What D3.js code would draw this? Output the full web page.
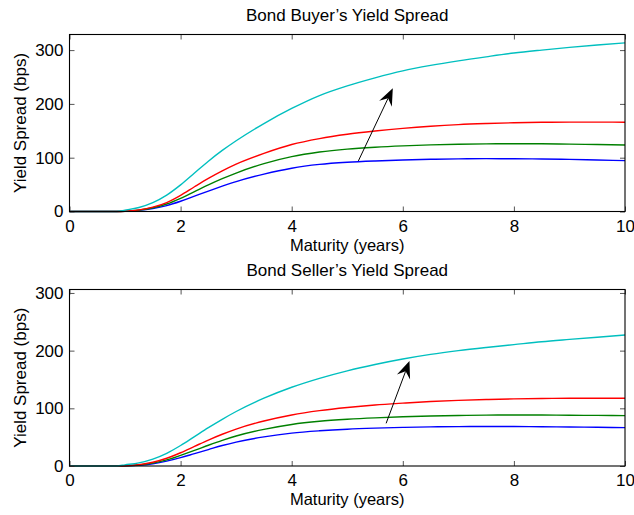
<!DOCTYPE html>
<html>
<head>
<meta charset="utf-8">
<script src="https://cdn.jsdelivr.net/npm/d3@7"></script>
<style>
  html, body { margin: 0; padding: 0; background: #fff; }
  svg { display: block; }
  text { font-family: "Liberation Sans", Arial, Helvetica, sans-serif; }
</style>
</head>
<body>
<svg id="chart" width="634" height="515"></svg>
<script>
// ---- data ----
const maturity = [0, 0.5, 0.85, 1, 1.25, 1.5, 1.75, 2, 2.25, 2.5, 2.75, 3, 3.5, 4, 4.5, 5, 5.5, 6, 6.5, 7, 7.5, 8, 8.5, 9, 9.5, 10];

// Buyer's spread (bps)
const buyerBlue  = [0, 0, 0, 0.3, 2, 5.5, 11, 19, 28.5, 38, 47, 55.5, 69.5, 80.5, 87.5, 91.5, 94, 95.8, 97, 97.8, 98.2, 98.1, 97.6, 96.8, 95.7, 94.5];
const buyerGreen = [0, 0, 0, 0.5, 2.5, 7, 14, 24.5, 37, 49.5, 61, 71.5, 89, 102, 110.5, 116, 119.5, 122, 123.8, 125, 125.7, 126, 125.8, 125.2, 124.4, 123.6];
const buyerRed   = [0, 0, 0, 0.5, 3, 8, 16.5, 30, 46, 61.5, 75.5, 88, 108, 124.5, 135.5, 143.5, 149.5, 154.5, 158.5, 161.5, 163.5, 165, 165.8, 166.2, 166.2, 166];
const buyerCyan  = [0, 0, 0, 2.5, 7.5, 16.5, 30.5, 49.5, 71.5, 93.5, 113.5, 131.5, 163.5, 191.5, 215.5, 233.5, 248.5, 261.5, 271.5, 280, 287.5, 294.5, 300, 305, 309.5, 313.5];

// Seller's spread (bps)
const sellerBlue  = [0, 0, 0, 0.2, 1.3, 4, 8.5, 14.5, 21.5, 28.5, 35.5, 41.5, 50.5, 57, 61, 63.8, 65.6, 66.9, 67.8, 68.3, 68.5, 68.4, 68.1, 67.6, 67.1, 66.5];
const sellerGreen = [0, 0, 0, 0.3, 1.8, 5, 10.5, 18.5, 27, 36, 44.5, 52, 63.5, 72, 77.5, 81, 83.5, 85.3, 86.7, 87.6, 88.2, 88.4, 88.3, 88, 87.7, 87.3];
const sellerRed   = [0, 0, 0, 0.4, 2.4, 6.5, 13.5, 23, 34, 45, 55, 64, 78, 88.5, 96, 101.5, 105.8, 109, 111.8, 113.8, 115.3, 116.4, 117, 117.4, 117.5, 117.5];
const sellerCyan  = [0, 0, 0, 2, 5.5, 12, 22, 35.5, 51, 66.5, 81, 94.5, 117.5, 136.5, 152, 165, 176, 185.5, 193.5, 200, 205.5, 210.5, 215.5, 219.5, 223.3, 227];

const seriesColors = ["#0000ff", "#008000", "#ff0000", "#00bfbf"];

const xTicks = [0, 2, 4, 6, 8, 10];
const yTicks = [0, 100, 200, 300];

const titles = ["Bond Buyer\u2019s Yield Spread", "Bond Seller\u2019s Yield Spread"];
const xLabel = "Maturity (years)";
const yLabel = "Yield Spread (bps)";

// arrows in data coordinates: [x1, y1, x2, y2]
const buyerArrow  = [5.2, 94, 5.82, 229];
const sellerArrow = [5.7, 74, 6.12, 182];

// ---- layout ----
const svg = d3.select("#chart");
const fs = 17;
const panels = [
  { title: titles[0], series: [buyerBlue, buyerGreen, buyerRed, buyerCyan], yMax: 329, top: 34.5, bottom: 211.5, arrow: buyerArrow, xlab: 39.5 },
  { title: titles[1], series: [sellerBlue, sellerGreen, sellerRed, sellerCyan], yMax: 306, top: 289.5, bottom: 466, arrow: sellerArrow, xlab: 38.6 }
];
const left = 69.5, right = 625;

panels.forEach(p => {
  const x = d3.scaleLinear().domain([0, 10]).range([left, right]);
  const y = d3.scaleLinear().domain([0, p.yMax]).range([p.bottom, p.top]);
  const g = svg.append("g");

  // curves
  const line = d3.line().x((d, i) => x(maturity[i])).y(d => y(d)).curve(d3.curveMonotoneX);
  p.series.forEach((s, k) => {
    g.append("path").datum(s).attr("d", line)
      .attr("fill", "none").attr("stroke", seriesColors[k]).attr("stroke-width", 1.4);
  });

  // axes (ticks inward)
  const tk = 5;
  const axB = g.append("g").attr("transform", `translate(0,${p.bottom})`)
    .call(d3.axisBottom(x).tickValues(xTicks).tickSize(-tk).tickPadding(8.2).tickFormat(d3.format("d")));
  const axT = g.append("g").attr("transform", `translate(0,${p.top})`)
    .call(d3.axisTop(x).tickValues(xTicks).tickSize(-tk).tickFormat(""));
  const axL = g.append("g").attr("transform", `translate(${left},0)`)
    .call(d3.axisLeft(y).tickValues(yTicks).tickSize(-tk).tickPadding(6).tickFormat(d3.format("d")));
  const axR = g.append("g").attr("transform", `translate(${right},0)`)
    .call(d3.axisRight(y).tickValues(yTicks).tickSize(-tk).tickFormat(""));
  [axB, axT, axL, axR].forEach(a => {
    a.select(".domain").remove();
    a.selectAll(".tick line").attr("stroke", "#555").attr("stroke-width", 1);
    a.selectAll("text").attr("font-size", fs).attr("fill", "#000")
      .style("font-family", "'Liberation Sans', Arial, sans-serif");
  });

  // box
  g.append("rect").attr("x", left).attr("y", p.top)
    .attr("width", right - left).attr("height", p.bottom - p.top)
    .attr("fill", "none").attr("stroke", "#000").attr("stroke-width", 1.1);

  // title
  g.append("text").attr("x", (left + right) / 2).attr("y", p.top - 14)
    .attr("text-anchor", "middle").attr("font-size", fs).text(p.title);
  // x label
  g.append("text").attr("x", (left + right) / 2).attr("y", p.bottom + p.xlab)
    .attr("text-anchor", "middle").attr("font-size", 16.5).text(xLabel);
  // y label
  g.append("text")
    .attr("transform", `translate(26,${(p.top + p.bottom) / 2}) rotate(-90)`)
    .attr("text-anchor", "middle").attr("font-size", fs).text(yLabel);

  // arrow
  const [a1, b1, a2, b2] = p.arrow;
  const X1 = x(a1), Y1 = y(b1), X2 = x(a2), Y2 = y(b2);
  const dx = X2 - X1, dy = Y2 - Y1, len = Math.hypot(dx, dy);
  const ux = dx / len, uy = dy / len, px = -uy, py = ux;
  const L = 17, W = 7, N = 11;
  const back = [X2 - ux * N, Y2 - uy * N];
  g.append("line").attr("x1", X1).attr("y1", Y1).attr("x2", back[0]).attr("y2", back[1])
    .attr("stroke", "#000").attr("stroke-width", 1);
  const head = [
    [X2, Y2],
    [X2 - ux * L + px * W, Y2 - uy * L + py * W],
    back,
    [X2 - ux * L - px * W, Y2 - uy * L - py * W]
  ];
  g.append("path").attr("d", "M" + head.map(q => q.join(",")).join("L") + "Z").attr("fill", "#000");
});
</script>
</body>
</html>
